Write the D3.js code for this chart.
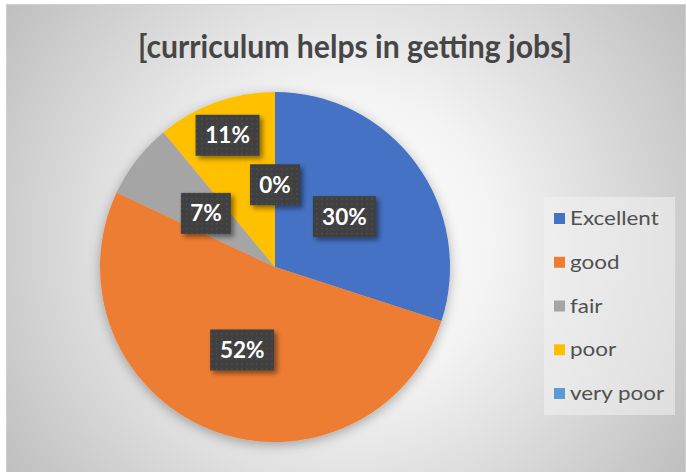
<!DOCTYPE html>
<html><head><meta charset="utf-8">
<script src="https://cdn.jsdelivr.net/npm/d3@7"></script>
<style>html,body{margin:0;padding:0;background:#fff;}svg{display:block;}</style>
</head><body>
<script>
const categories = ["Excellent", "good", "fair", "poor", "very poor"];
const values = [30, 52, 7, 11, 0];
const labels = ["30%", "52%", "7%", "11%", "0%"];
const colors = ["#4472C4", "#ED7D31", "#A5A5A5", "#FFC000", "#5B9BD5"];
const title = "[curriculum helps in getting jobs]";

const W = 687, H = 472;
const svg = d3.select("body").append("svg").attr("width", W).attr("height", H);
const defs = svg.append("defs");

const rg = defs.append("radialGradient").attr("id", "bg")
  .attr("gradientUnits", "userSpaceOnUse").attr("cx", 345).attr("cy", 240).attr("r", 420);
rg.append("stop").attr("offset", "0").attr("stop-color", "#ffffff");
rg.append("stop").attr("offset", "0.35").attr("stop-color", "#f4f4f4");
rg.append("stop").attr("offset", "1").attr("stop-color", "#bdbdbd");

const pat = defs.append("pattern").attr("id", "dots").attr("patternUnits", "userSpaceOnUse")
  .attr("width", 5).attr("height", 5);
pat.append("rect").attr("width", 5).attr("height", 5).attr("fill", "#404040");
pat.append("rect").attr("x", 1).attr("y", 1).attr("width", 1.5).attr("height", 1.5).attr("fill", "#4e4e4e");

const sh = defs.append("filter").attr("id", "sh").attr("x", "-30%").attr("y", "-30%").attr("width", "160%").attr("height", "160%");
sh.append("feDropShadow").attr("dx", 3).attr("dy", 3).attr("stdDeviation", 2.5).attr("flood-color", "#000").attr("flood-opacity", 0.45);
const psh = defs.append("filter").attr("id", "psh").attr("x", "-20%").attr("y", "-20%").attr("width", "140%").attr("height", "140%");
psh.append("feDropShadow").attr("dx", 0).attr("dy", 3).attr("stdDeviation", 6).attr("flood-color", "#000").attr("flood-opacity", 0.3);

svg.append("rect").attr("x", 6.5).attr("y", 4.5).attr("width", 679).attr("height", 470)
  .attr("fill", "url(#bg)").attr("stroke", "#d0d0d0").attr("stroke-width", 1);

svg.append("text").attr("x", 138).attr("y", 58)
  .attr("textLength", 434).attr("lengthAdjust", "spacingAndGlyphs")
  .attr("font-family", "Lato, 'Open Sans', sans-serif").attr("font-weight", "bold")
  .attr("font-size", 33).attr("fill", "#464646").text(title);

const cx = 275, cy = 267, R = 175;
const pie = d3.pie().sort(null).value(d => d)(values);
const arc = d3.arc().innerRadius(0).outerRadius(R);
const g = svg.append("g").attr("transform", `translate(${cx},${cy})`);
g.append("g").attr("filter", "url(#psh)").selectAll("path").data(pie).join("path")
  .attr("d", arc).attr("fill", (d, i) => colors[i]);

const labelR = [0.49, 0.51, 0.5, 0.8, 0.47];
const boxW = [63, 64, 50, 64, 50];
const lg = g.append("g");
pie.forEach((d, i) => {
  const a = (d.startAngle + d.endAngle) / 2;
  const r = R * labelR[i];
  const x = Math.sin(a) * r, y = -Math.cos(a) * r;
  const w = boxW[i], h = 41;
  lg.append("rect").attr("x", x - w / 2).attr("y", y - h / 2).attr("width", w).attr("height", h)
    .attr("fill", "url(#dots)").attr("filter", "url(#sh)");
  lg.append("text").attr("x", x).attr("y", y + 8).attr("text-anchor", "middle")
    .attr("font-family", "Lato, 'Open Sans', sans-serif").attr("font-weight", "bold")
    .attr("font-size", 22.5).attr("fill", "#fff").text(labels[i]);
});

const leg = svg.append("g");
leg.append("rect").attr("x", 544).attr("y", 197).attr("width", 131).attr("height", 218)
  .attr("fill", "#f2f2f2").attr("opacity", 0.55);
const ly = d3.scalePoint().domain(categories).range([218, 393]);
categories.forEach((c, i) => {
  leg.append("rect").attr("x", 554).attr("y", ly(c) - 5).attr("width", 11).attr("height", 11).attr("fill", colors[i]);
  leg.append("text").attr("transform", `translate(570,${ly(c) + 7}) scale(1.15,1)`)
    .attr("font-family", "Lato, 'Open Sans', sans-serif").attr("font-size", 19.5)
    .attr("fill", "#505050").text(c);
});
</script>
</body></html>
